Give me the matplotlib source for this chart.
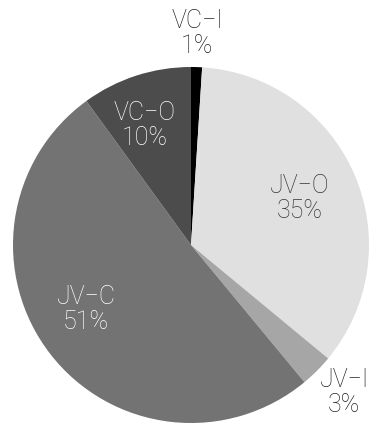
import matplotlib.pyplot as plt

plt.rcParams['font.family'] = ['Roboto', 'DejaVu Sans']

# Data
labels = ["VC−I", "JV−O", "JV−I", "JV−C", "VC−O"]
values = [1, 35, 3, 51, 10]
colors = ["#000000", "#e0e0e0", "#a6a6a6", "#737373", "#4c4c4c"]
text_colors = ["#222222", "#333333", "#222222", "white", "white"]

# label placement (x, y) relative to pie centre, in radius units
label_pos = [(0.035, 1.19), (0.61, 0.26), (0.86, -0.83), (-0.59, -0.365), (-0.26, 0.67)]

fig = plt.figure(figsize=(3.70, 4.24), dpi=100)
ax = fig.add_axes([0, 0, 1, 1])

R = 178.0
cx, cy = 191.0, 424 - 245.0
wedges, _ = ax.pie(values, colors=colors, startangle=90, counterclock=False,
                   radius=1.0, wedgeprops=dict(linewidth=0))
ax.set_xlim(-cx / R, (370 - cx) / R)
ax.set_ylim(-cy / R, (424 - cy) / R)
ax.set_aspect('auto')
ax.axis('off')

for lab, v, (x, y), tc in zip(labels, values, label_pos, text_colors):
    ax.text(x, y, f"{lab}\n{v}%", ha='center', va='center', fontsize=18,
            color=tc, linespacing=1.05, fontweight='light')

fig.savefig("out.png", dpi=100)
